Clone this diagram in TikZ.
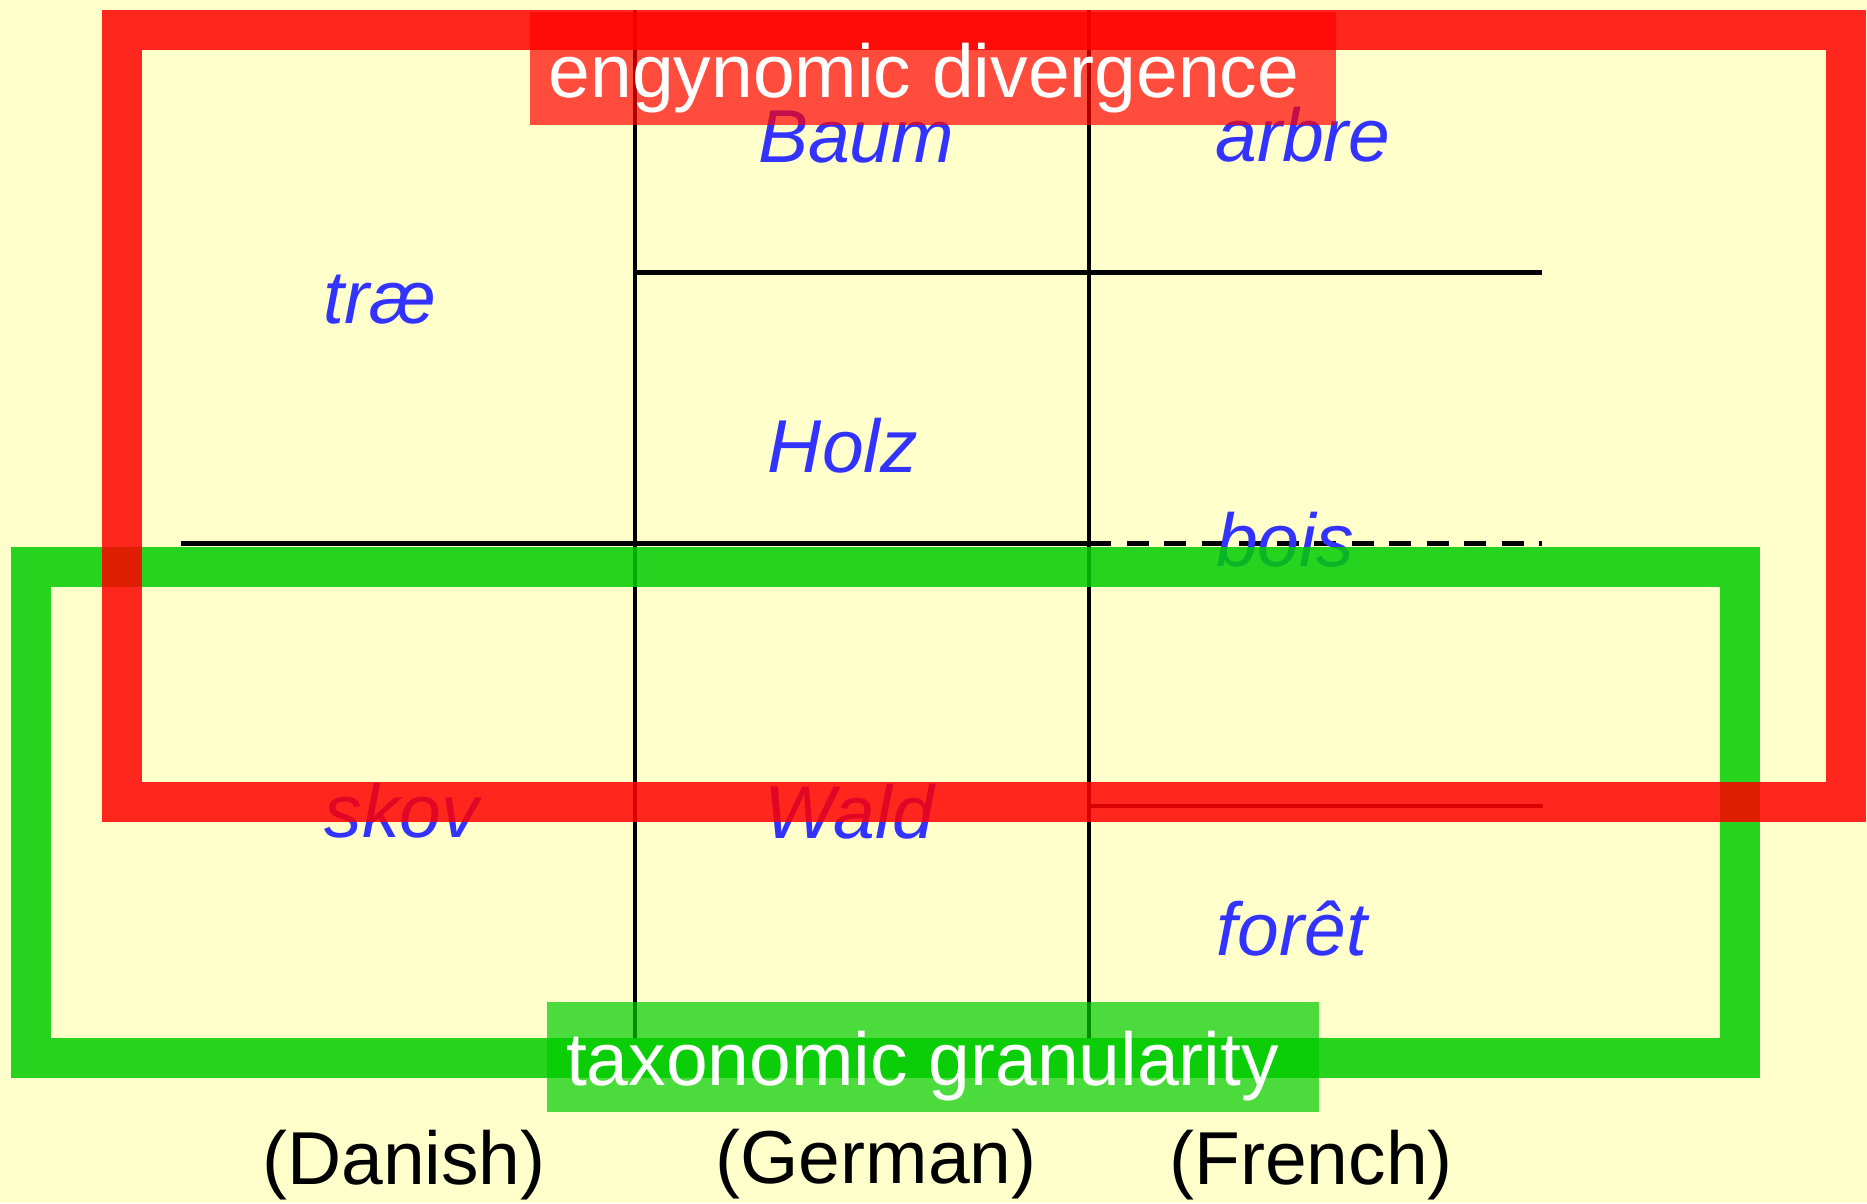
\documentclass[tikz,border=0pt]{standalone}
\usepackage{fontspec}
\setmainfont{Liberation Sans}
\definecolor{bgyellow}{HTML}{FFFFCC}
\definecolor{wordblue}{HTML}{3333FF}
\definecolor{frgreen}{RGB}{0,204,0}
\definecolor{frred}{RGB}{255,0,0}
\begin{document}
\begin{tikzpicture}[x=1pt,y=-1pt,
  word/.style={anchor=base,inner sep=0pt,text=wordblue,font=\fontsize{75}{80}\selectfont\itshape},
  lang/.style={anchor=base,inner sep=0pt,text=black,font=\fontsize{75}{80}\selectfont},
  boxtext/.style={anchor=base,inner sep=0pt,text=white,font=\fontsize{75}{80}\selectfont},
  gridline/.style={line width=4.8pt,draw=black},
  dashline/.style={line width=4.8pt,draw=black,dash pattern=on 22pt off 15.5pt},
  redframe/.style={draw=frred,line width=40pt,draw opacity=0.85},
  greenframe/.style={draw=frgreen,line width=40pt,draw opacity=0.85},
  redbox/.style={fill=frred,fill opacity=0.7},
  greenbox/.style={fill=frgreen,fill opacity=0.7}]
\fill[bgyellow] (0,0) rectangle (1867,1203);
\useasboundingbox (0,0) rectangle (1867,1203);

% grid coordinates
\coordinate (v1t) at (635,10);
\coordinate (v1b) at (635,1039);
\coordinate (v2t) at (1089,10);
\coordinate (v2b) at (1089,1039);
\coordinate (h1l) at (635,272.5);
\coordinate (h1r) at (1542,272.5);
\coordinate (h2l) at (181,543.5);
\coordinate (h2m) at (1089,543.5);
\coordinate (h2r) at (1542,543.5);
\coordinate (h3l) at (1089,806);
\coordinate (h3r) at (1543,806);

\draw[gridline] (v1t) -- (v1b);
\draw[gridline] (v2t) -- (v2b);
\draw[gridline] (h1l) -- (h1r);
\draw[gridline] (h2l) -- (h2m);
\draw[dashline] (h2m) -- (h2r);
\draw[gridline] (h3l) -- (h3r);

% words
\node[word] (trae)  at (380,323) {træ};
\node[word] (baum)  at (856,162) {Baum};
\node[word] (arbre) at (1303,161) {arbre};
\node[word] (holz)  at (843,472) {Holz};
\node[word] (bois)  at (1285,566) {bois};
\node[word] (skov)  at (402,837) {skov};
\node[word] (wald)  at (849,838) {Wald};
\node[word] (foret) at (1292,955) {forêt};

% language labels
\node[lang] (danish) at (404,1184) {(Danish)};
\node[lang] (german) at (876,1183) {(German)};
\node[lang] (french) at (1311,1184) {(French)};

% green frame and box
\fill[greenbox] (547,1002) rectangle (1319,1112);
\draw[greenframe] (31,567) rectangle (1740,1058);

% red frame and box
\fill[redbox] (530,12) rectangle (1336,125);
\draw[redframe] (122,30) rectangle (1846,801.5);

\node[boxtext] (engy) at (924,97) {engynomic divergence};
\node[boxtext] (taxo) at (922.5,1085) {taxonomic granularity};
\end{tikzpicture}
\end{document}
